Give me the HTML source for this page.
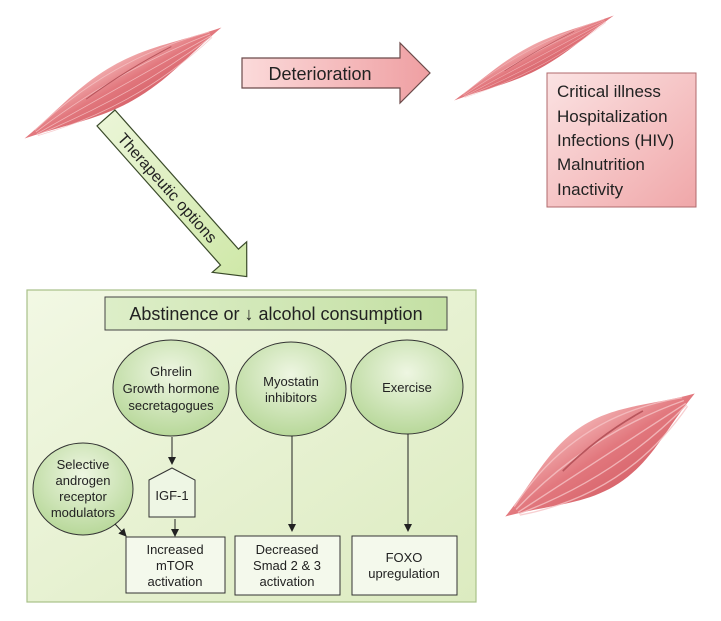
<!DOCTYPE html>
<html><head><meta charset="utf-8"><style>
html,body{margin:0;padding:0;background:#fff;}
svg{display:block;}
text{font-family:"Liberation Sans",Arial,sans-serif;}
</style></head><body>
<svg width="721" height="621" viewBox="0 0 721 621" xmlns="http://www.w3.org/2000/svg">
<defs>
<linearGradient id="mus" x1="0" y1="0" x2="0" y2="1">
<stop offset="0" stop-color="#f0a8aa"/><stop offset="0.5" stop-color="#e2787e"/><stop offset="1" stop-color="#d9676e"/>
</linearGradient>
<linearGradient id="red" x1="0" y1="0" x2="1" y2="1">
<stop offset="0" stop-color="#fbe3e3"/><stop offset="1" stop-color="#f0a7a9"/>
</linearGradient>
<linearGradient id="redArr" x1="0" y1="0" x2="1" y2="0">
<stop offset="0" stop-color="#fbdada"/><stop offset="1" stop-color="#ef9fa2"/>
</linearGradient>
<linearGradient id="grnArr" x1="0" y1="0" x2="1" y2="0">
<stop offset="0" stop-color="#eaf5d6"/><stop offset="1" stop-color="#cfe8a8"/>
</linearGradient>
<linearGradient id="bg" x1="0" y1="0" x2="1" y2="1">
<stop offset="0" stop-color="#f2f8e4"/><stop offset="1" stop-color="#dcebc0"/>
</linearGradient>
<linearGradient id="title" x1="0" y1="0" x2="1" y2="0">
<stop offset="0" stop-color="#ddeec8"/><stop offset="1" stop-color="#c4e0a4"/>
</linearGradient>
<radialGradient id="circ" cx="0.5" cy="0.35" r="0.65">
<stop offset="0" stop-color="#eef6e2"/><stop offset="1" stop-color="#b8d89a"/>
</radialGradient>
<marker id="ah" markerWidth="8" markerHeight="8" refX="7" refY="4" orient="auto" markerUnits="userSpaceOnUse">
<path d="M0,0 L8,4 L0,8 Z" fill="#222"/>
</marker>
<g id="muscle">
<path d="M-113,0 C-70,-8 -40,-20 0,-20 C40,-20 70,-8 113,0 C70,8 40,20 0,20 C-40,20 -70,8 -113,0 Z" fill="url(#mus)"/>
<g stroke="#f6c4c6" stroke-width="0.8" fill="none" opacity="0.8">
<path d="M-100,-2 Q0,-28 100,-2"/><path d="M-100,0 Q0,-14 100,0"/><path d="M-100,2 Q0,2 100,2"/><path d="M-100,3 Q0,16 100,3"/><path d="M-100,4 Q0,28 100,4"/>
</g>
<path d="M-40,-4 Q10,-10 60,-8" stroke="#b8555c" stroke-width="1" fill="none"/>
</g>
</defs>

<!-- muscles -->
<use href="#muscle" transform="translate(123,83) rotate(-29.4)"/>
<use href="#muscle" transform="translate(534,58) rotate(-28) scale(0.8,0.6)"/>
<use href="#muscle" transform="translate(600,455) rotate(-33) scale(1.0,1.7)"/>

<!-- Deterioration arrow -->
<path d="M242,58 L400,58 L400,43 L430,73 L400,103 L400,88 L242,88 Z" fill="url(#redArr)" stroke="#6b4a4a" stroke-width="1.2"/>
<text x="320" y="80" font-size="18" text-anchor="middle" fill="#222">Deterioration</text>

<!-- red box -->
<rect x="547" y="73" width="149" height="134" fill="url(#red)" stroke="#b06a6c" stroke-width="1"/>
<g font-size="17" fill="#222">
<text x="557" y="97">Critical illness</text>
<text x="557" y="122">Hospitalization</text>
<text x="557" y="146">Infections (HIV)</text>
<text x="557" y="170">Malnutrition</text>
<text x="557" y="195">Inactivity</text>
</g>

<!-- Therapeutic arrow -->
<g transform="translate(106,118) rotate(48.4)">
<path d="M0,-12 L186,-12 L186,-23 L212,0 L186,23 L186,12 L0,12 Z" fill="url(#grnArr)" stroke="#3a4a2a" stroke-width="1.2"/>
<text x="93" y="6" font-size="16" text-anchor="middle" fill="#222">Therapeutic options</text>
</g>

<!-- big box -->
<rect x="27" y="290" width="449" height="312" fill="url(#bg)" stroke="#a8c088" stroke-width="1.2"/>
<rect x="105" y="297" width="342" height="33" fill="url(#title)" stroke="#444" stroke-width="1"/>
<text x="276" y="320" font-size="18" text-anchor="middle" fill="#222">Abstinence or ↓ alcohol consumption</text>

<g stroke="#333" stroke-width="1" fill="url(#circ)">
<ellipse cx="171" cy="388" rx="58" ry="48"/>
<ellipse cx="291" cy="389" rx="55" ry="47"/>
<ellipse cx="407" cy="387" rx="56" ry="47"/>
<ellipse cx="83" cy="489" rx="50" ry="46"/>
</g>
<g font-size="13" text-anchor="middle" fill="#222">
<text x="171" y="376">Ghrelin</text>
<text x="171" y="393">Growth hormone</text>
<text x="171" y="410">secretagogues</text>
<text x="291" y="386">Myostatin</text>
<text x="291" y="402">inhibitors</text>
<text x="407" y="392">Exercise</text>
<text x="83" y="469">Selective</text>
<text x="83" y="485">androgen</text>
<text x="83" y="501">receptor</text>
<text x="83" y="517">modulators</text>
</g>

<!-- IGF-1 -->
<path d="M149,480 L172,468 L195,480 L195,517 L149,517 Z" fill="#eef6e4" stroke="#333" stroke-width="1"/>
<text x="172" y="500" font-size="13" text-anchor="middle" fill="#222">IGF-1</text>

<!-- boxes -->
<g fill="#f4f9ec" stroke="#333" stroke-width="1">
<rect x="126" y="537" width="99" height="56"/>
<rect x="235" y="536" width="105" height="59"/>
<rect x="352" y="536" width="105" height="59"/>
</g>
<g font-size="13" text-anchor="middle" fill="#222">
<text x="175" y="554">Increased</text>
<text x="175" y="570">mTOR</text>
<text x="175" y="586">activation</text>
<text x="287" y="554">Decreased</text>
<text x="287" y="570">Smad 2 &amp; 3</text>
<text x="287" y="586">activation</text>
<text x="404" y="562">FOXO</text>
<text x="404" y="578">upregulation</text>
</g>

<!-- connectors -->
<g stroke="#222" stroke-width="1" marker-end="url(#ah)">
<line x1="172" y1="437" x2="172" y2="464"/>
<line x1="175" y1="519" x2="175" y2="536"/>
<line x1="292" y1="436" x2="292" y2="531"/>
<line x1="408" y1="434" x2="408" y2="531"/>
<line x1="115" y1="524" x2="126" y2="536"/>
</g>
</svg>
</body></html>
